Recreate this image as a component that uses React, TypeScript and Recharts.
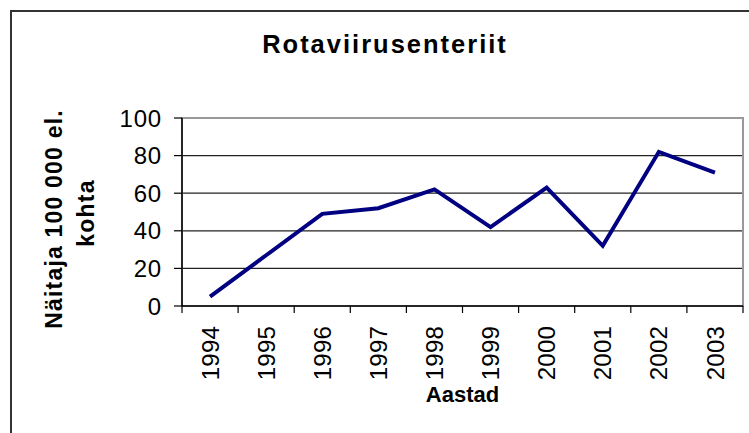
import React from 'react'
import {
  LineChart, Line, XAxis, YAxis, CartesianGrid, ReferenceArea,
} from 'recharts'

// ── Data ───────────────────────────────────────────────────────

const YEARS = ['1994', '1995', '1996', '1997', '1998', '1999', '2000', '2001', '2002', '2003']
const RATES = [5, 27, 49, 52, 62, 42, 63, 32, 82, 71]
const Y_TICKS = [0, 20, 40, 60, 80, 100]

const TITLE = 'Rotaviirusenteriit'
const Y_LABEL_LINES = ['Näitaja 100 000 el.', 'kohta']
const X_LABEL = 'Aastad'

const data = YEARS.map((year, i) => ({ year, rate: RATES[i] }))

// ── Styles ─────────────────────────────────────────────────────

const FONT = '"Liberation Sans", Arial, Helvetica, sans-serif'
const W = 749
const H = 433
const MARGIN = { top: 118, right: 6, bottom: 0, left: 0 }
const Y_AXIS_W = 182
const X_AXIS_H = 127

// ── Ticks / labels ─────────────────────────────────────────────

function YearTick(props: any) {
  const { x, y, payload, index } = props
  const half = payload?.offset ?? 28
  const axisY = H - X_AXIS_H
  return (
    <g>
      <line x1={x - half} x2={x - half} y1={axisY} y2={axisY + 7} stroke="#000" strokeWidth={1.2} />
      {index === YEARS.length - 1 && (
        <line x1={x + half} x2={x + half} y1={axisY} y2={axisY + 7} stroke="#000" strokeWidth={1.2} />
      )}
      <text
        x={x}
        y={y}
        dy="0.36em"
        transform={`rotate(-90, ${x}, ${y})`}
        textAnchor="end"
        fontFamily={FONT}
        fontSize={24}
        letterSpacing={0.2}
        fill="#000"
      >
        {payload.value}
      </text>
    </g>
  )
}

function YValueTick(props: any) {
  const { x, y, payload } = props
  return (
    <text
      x={x}
      y={y}
      dy="0.36em"
      textAnchor="end"
      fontFamily={FONT}
      fontSize={24}
      letterSpacing={0.8}
      fill="#000"
    >
      {payload.value}
    </text>
  )
}

function YTitle() {
  const cy = [219, 213]
  const bx = [61.5, 93.5]
  return (
    <g>
      {Y_LABEL_LINES.map((t, i) => (
        <text
          key={i}
          x={bx[i]}
          y={cy[i]}
          transform={`rotate(-90, ${bx[i]}, ${cy[i]})`}
          textAnchor="middle"
          fontFamily={FONT}
          fontWeight="bold"
          fontSize={23}
          letterSpacing={1.2}
          fill="#000"
        >
          {t}
        </text>
      ))}
    </g>
  )
}

function XTitle(props: any) {
  const vb = props.viewBox ?? { x: 182, width: 561 }
  return (
    <text
      x={vb.x + vb.width / 2}
      y={401.7}
      textAnchor="middle"
      fontFamily={FONT}
      fontWeight="bold"
      fontSize={22}
      fill="#000"
    >
      {X_LABEL}
    </text>
  )
}

// ── Chart ──────────────────────────────────────────────────────

export default function App() {
  return (
    <div style={{ position: 'absolute', left: 0, top: 0, width: W, height: H, overflow: 'hidden', background: '#fff' }}>
      {/* outer chart frame, cut off at right and bottom */}
      <div style={{ position: 'absolute', left: 10, top: 10, width: 800, height: 500, border: '2px solid #333' }} />

      <svg width={W} height={H} style={{ position: 'absolute', left: 0, top: 0 }}>
        <text x={385} y={53.3} textAnchor="middle" fontFamily={FONT} fontWeight="bold" fontSize={25.5} letterSpacing={2} fill="#000">
          {TITLE}
        </text>
      </svg>

      <div style={{ position: 'absolute', left: 0, top: 0 }}>
        <LineChart width={W} height={H} data={data} margin={MARGIN}>
          <CartesianGrid vertical={false} stroke="#222" strokeWidth={1.2} />
          <ReferenceArea y1={0} y2={100} fill="none" stroke="#999" strokeWidth={2} ifOverflow="visible" />
          <XAxis
            dataKey="year"
            scale="band"
            height={X_AXIS_H}
            interval={0}
            tickLine={false}
            tickSize={7}
            tickMargin={13}
            axisLine={{ stroke: '#000', strokeWidth: 1.5 }}
            tick={<YearTick />}
            label={{ content: <XTitle /> }}
          />
          <YAxis
            width={Y_AXIS_W}
            domain={[0, 100]}
            ticks={Y_TICKS}
            interval={0}
            tickSize={8}
            tickMargin={12}
            axisLine={{ stroke: '#000', strokeWidth: 1.5 }}
            tickLine={{ stroke: '#000', strokeWidth: 1.2 }}
            tick={<YValueTick />}
            label={{ content: <YTitle /> }}
          />
          <Line
            type="linear"
            dataKey="rate"
            stroke="#000080"
            strokeWidth={4}
            dot={false}
            activeDot={false}
            isAnimationActive={false}
          />
        </LineChart>
      </div>
    </div>
  )
}
